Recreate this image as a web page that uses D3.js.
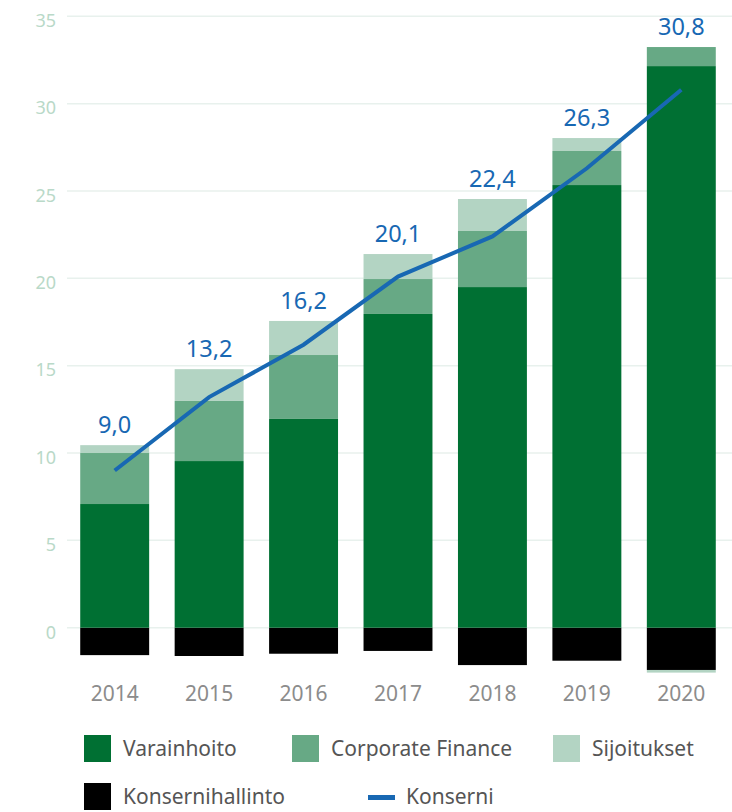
<!doctype html>
<html>
  <head>
    <meta charset="utf-8">
    <title>Liikevoitto</title>
    <script src="https://cdn.jsdelivr.net/npm/d3@7"></script>
    <style>
      body { margin: 0; background: #fff; }
      text { font-family: "Noto Sans", sans-serif; }
    </style>
  </head>
  <body>
    <script>
      // data
      const years = ['2014', '2015', '2016', '2017', '2018', '2019', '2020'];
      const varainhoito = [7.08, 9.54, 11.95, 17.96, 19.5, 25.34, 32.15];
      const corporateFinance = [2.92, 3.44, 3.66, 2.0, 3.21, 1.95, 1.09];
      const sijoitukset = [0.45, 1.82, 1.95, 1.43, 1.83, 0.74, -0.15];
      const konsernihallinto = [-1.57, -1.62, -1.49, -1.33, -2.14, -1.89, -2.42];
      const konserni = [9.0, 13.2, 16.2, 20.1, 22.4, 26.3, 30.8];
      const yTicks = [0, 5, 10, 15, 20, 25, 30, 35];

      const width = 732;
      const height = 812;

      const colors = {
        Konsernihallinto: '#000000',
        Varainhoito: '#007033',
        'Corporate Finance': '#67a985',
        Sijoitukset: '#b3d4c3'
      };
      const lineColor = '#1868b3';

      // keys in this order so that negatives stack Konsernihallinto first
      const keys = ['Konsernihallinto', 'Varainhoito', 'Corporate Finance', 'Sijoitukset'];
      const rows = years.map((y, i) => ({
        year: y,
        Konsernihallinto: konsernihallinto[i],
        Varainhoito: varainhoito[i],
        'Corporate Finance': corporateFinance[i],
        Sijoitukset: sijoitukset[i]
      }));

      const series = d3.stack()
          .keys(keys)
          .offset(d3.stackOffsetDiverging)(rows);

      const svg = d3.select('body').append('svg')
          .attr('width', width)
          .attr('height', height);

      const x = d3.scaleBand()
          .domain(years)
          .range([67, 729])
          .paddingInner(0.27)
          .paddingOuter(0.14);

      const y = d3.scaleLinear()
          .domain([0, 35])
          .range([627.7, 16.3]);

      // grid lines
      svg.append('g')
        .selectAll('line')
        .data(yTicks)
        .join('line')
          .attr('x1', 67)
          .attr('x2', width)
          .attr('y1', d => y(d))
          .attr('y2', d => y(d))
          .attr('stroke', '#e8f1ed')
          .attr('stroke-width', 1.5);

      // y axis labels
      svg.append('g')
        .selectAll('text')
        .data(yTicks)
        .join('text')
          .attr('x', 56)
          .attr('y', d => y(d))
          .attr('dy', '0.6em')
          .attr('text-anchor', 'end')
          .attr('fill', '#b9d9c8')
          .attr('font-size', 18)
          .text(d => d);

      // bars
      svg.append('g')
        .selectAll('g')
        .data(series)
        .join('g')
          .attr('fill', d => colors[d.key])
        .selectAll('rect')
        .data(d => d)
        .join('rect')
          .attr('x', d => x(d.data.year))
          .attr('width', x.bandwidth())
          .attr('y', d => {
            const top = y(Math.max(d[0], d[1]));
            return d[1] <= 0 && d[0] === 0 ? top + 1.5 : top;
          })
          .attr('height', d => {
            const h = Math.abs(y(d[0]) - y(d[1]));
            return d[1] <= 0 && d[0] === 0 ? Math.max(0, h - 1.5) : h;
          });

      // x axis labels
      svg.append('g')
        .selectAll('text')
        .data(years)
        .join('text')
          .attr('x', d => x(d) + x.bandwidth() / 2)
          .attr('y', 701)
          .attr('text-anchor', 'middle')
          .attr('fill', '#8c8c8c')
          .attr('font-size', 21)
          .text(d => d);

      // Konserni line
      const line = d3.line()
          .x((d, i) => x(years[i]) + x.bandwidth() / 2)
          .y(d => y(d));

      svg.append('path')
          .datum(konserni)
          .attr('d', line)
          .attr('fill', 'none')
          .attr('stroke', lineColor)
          .attr('stroke-width', 4);

      // value labels above bars
      const posTop = years.map((yr, i) =>
        d3.sum([varainhoito[i], corporateFinance[i], sijoitukset[i]], v => Math.max(0, v)));

      svg.append('g')
        .selectAll('text')
        .data(konserni)
        .join('text')
          .attr('x', (d, i) => x(years[i]) + x.bandwidth() / 2)
          .attr('y', (d, i) => y(posTop[i]) - 12)
          .attr('text-anchor', 'middle')
          .attr('fill', lineColor)
          .attr('font-size', 23.5)
          .text(d => d.toFixed(1).replace('.', ','));

      // legend
      const legendItems = [
        { name: 'Varainhoito', x: 84, y: 735, type: 'box' },
        { name: 'Corporate Finance', x: 292, y: 735, type: 'box' },
        { name: 'Sijoitukset', x: 553, y: 735, type: 'box' },
        { name: 'Konsernihallinto', x: 84, y: 783, type: 'box' },
        { name: 'Konserni', x: 368, y: 783, type: 'line' }
      ];

      const legend = svg.append('g')
        .selectAll('g')
        .data(legendItems)
        .join('g')
          .attr('transform', d => `translate(${d.x},${d.y})`);

      legend.filter(d => d.type === 'box')
        .append('rect')
          .attr('width', 27)
          .attr('height', 27)
          .attr('fill', d => colors[d.name]);

      legend.filter(d => d.type === 'line')
        .append('rect')
          .attr('y', 12)
          .attr('width', 27)
          .attr('height', 5)
          .attr('fill', lineColor);

      legend.append('text')
          .attr('x', d => d.type === 'line' ? 38 : 39)
          .attr('y', 21)
          .attr('fill', '#555555')
          .attr('font-size', 21)
          .text(d => d.name);
    </script>
  </body>
</html>
